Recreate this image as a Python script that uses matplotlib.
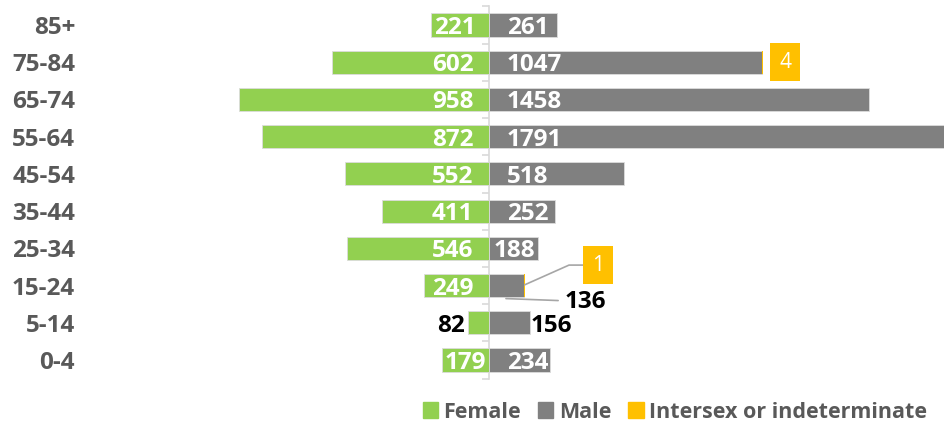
import numpy as np
import matplotlib
matplotlib.use("Agg")
from matplotlib import pyplot as plt
from matplotlib.patches import Patch

ages = ['0-4', '5-14', '15-24', '25-34', '35-44', '45-54', '55-64', '65-74', '75-84', '85+']
female = [179, 82, 249, 546, 411, 552, 872, 958, 602, 221]
male = [234, 156, 136, 188, 252, 518, 1791, 1458, 1047, 261]
intersex = [0, 0, 1, 0, 0, 0, 0, 0, 4, 0]

GREEN = '#92D050'
GREY = '#808080'
GOLD = '#FFC000'
TXT = '#595959'
LINE = '#d9d9d9'

plt.rcParams['font.family'] = ['Open Sans', 'DejaVu Sans']

fig = plt.figure(figsize=(9.45, 4.28), dpi=100)
ax = fig.add_axes([0.1058, 0.1154, 0.8942, 0.8696])

y = np.arange(len(ages))
h = 0.62
fem = -np.array(female)
ax.barh(y, fem, height=h, color=GREEN, edgecolor='#dcdcdc', linewidth=0.6, zorder=3)
ax.barh(y, male, height=h, color=GREY, edgecolor='#dcdcdc', linewidth=0.6, zorder=3)
ax.barh(y, intersex, left=male, height=h, color=GOLD, linewidth=0, zorder=3)

ax.set_xlim(-1493, 1750)
ax.set_ylim(-0.5, len(ages) - 0.5)

for s in ['top', 'right', 'bottom']:
    ax.spines[s].set_visible(False)
ax.spines['left'].set_position(('data', 0))
ax.spines['left'].set_color(LINE)
ax.spines['left'].set_linewidth(1.2)
ax.set_xticks([])
ax.set_yticks(y)
ax.set_yticklabels(ages, fontsize=17.5, fontweight='bold', color=TXT)
ax.tick_params(axis='y', which='major', length=0, pad=298)
ax.set_yticks(np.arange(len(ages) + 1) - 0.5, minor=True)
ax.tick_params(axis='y', which='minor', length=5, width=1.2, color=LINE, direction='out')

lab = dict(va='center_baseline', fontsize=17.5, fontweight='bold', zorder=4)

# value labels
for i in range(len(ages)):
    f, m = female[i], male[i]
    if f < 150:
        ax.text(-f - 12, i, str(f), ha='right', color='black', **lab)
    elif f < 240:
        ax.text(-f + 10, i, str(f), ha='left', color='white', **lab)
    else:
        ax.text(-60, i, str(f), ha='right', color='white', **lab)
    if ages[i] == '15-24':
        ax.annotate(str(m), xy=(65, i - 0.35), xytext=(292, i - 0.35),
                    ha='left', color='black',
                    arrowprops=dict(arrowstyle='-', color='#a6a6a6', lw=1.2,
                                    shrinkA=3, shrinkB=0), **lab)
    elif m < 170:
        ax.text(m + 2, i, str(m), ha='left', color='black', **lab)
    elif m < 230:
        ax.text(m - 12, i, str(m), ha='right', color='white', **lab)
    else:
        ax.text(69, i, str(m), ha='left', color='white', **lab)

# intersex labels
box = dict(boxstyle='square,pad=0.42', facecolor=GOLD, edgecolor='none')
i84 = ages.index('75-84')
ax.text(male[i84] + intersex[i84] + 85, i84, str(intersex[i84]), ha='center', va='center',
        fontsize=15, color='white', bbox=box, zorder=5)
i15 = ages.index('15-24')
ax.annotate(str(intersex[i15]), xy=(male[i15] + intersex[i15], i15 + 0.02),
            xytext=(418, i15 + 0.55), ha='center', va='center', fontsize=15,
            color='white', bbox=box, zorder=5,
            arrowprops=dict(arrowstyle='-', color='#a6a6a6', lw=1.2,
                            connectionstyle='angle,angleA=0,angleB=24,rad=0',
                            shrinkA=0, shrinkB=0))

handles = [Patch(color=GREEN, label='Female'), Patch(color=GREY, label='Male'),
           Patch(color=GOLD, label='Intersex or indeterminate')]
leg = fig.legend(handles=handles, loc='center', bbox_to_anchor=(675 / 945, 1 - 412 / 428),
                 ncol=3, frameon=False, handlelength=0.7, handleheight=0.7,
                 handletextpad=0.25, columnspacing=0.8,
                 prop={'size': 15.5, 'weight': 'bold'})
for t in leg.get_texts():
    t.set_color(TXT)

fig.savefig('out.png', dpi=100)
